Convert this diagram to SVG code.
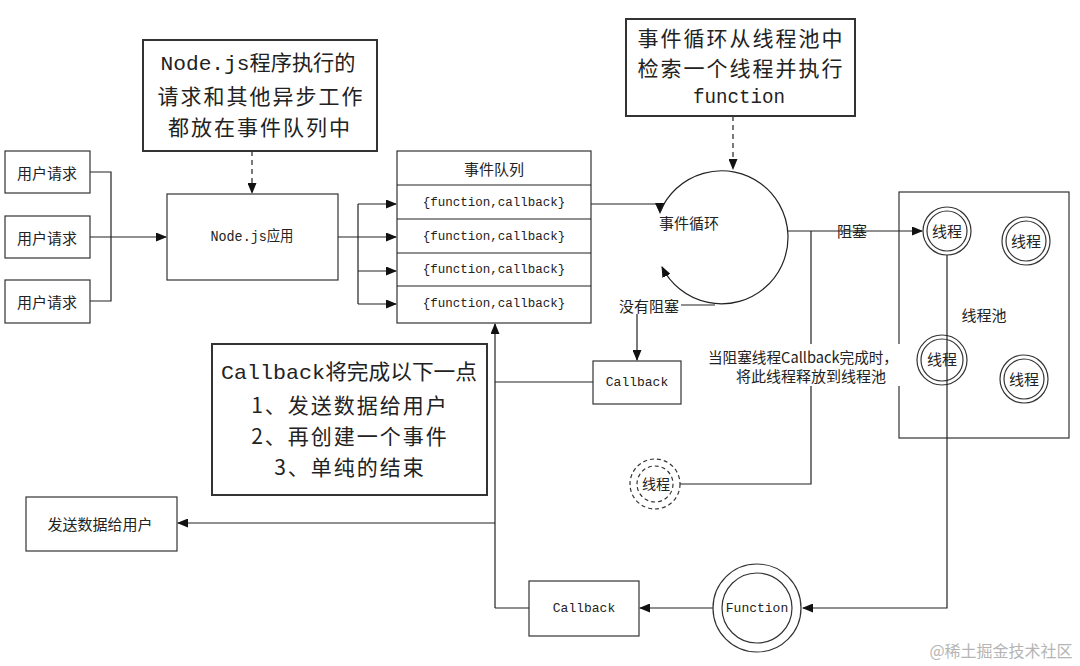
<svg xmlns="http://www.w3.org/2000/svg" width="1080" height="666" viewBox="0 0 1080 666">
<style>
.box{fill:#fff;stroke:#333;stroke-width:1.2}
.pool{fill:none;stroke:#333;stroke-width:1.2}
.call{fill:#fff;stroke:#333;stroke-width:2}
.ln{fill:none;stroke:#222;stroke-width:1.2}
.dash{fill:none;stroke:#222;stroke-width:1.2;stroke-dasharray:5,4}
.cir{fill:#fff;stroke:#333;stroke-width:1.2}
.dcir{fill:#fff;stroke:#333;stroke-width:1.2;stroke-dasharray:4,3}
.t{font-family:"Noto Sans CJK SC","Noto Sans",sans-serif;font-size:15px;fill:#222;text-anchor:middle;dominant-baseline:central}
.m{font-family:"Liberation Mono","Noto Sans CJK SC",monospace}
.big{font-size:21px;letter-spacing:2px}
.fit{letter-spacing:0}
.wm{font-family:"Noto Sans CJK SC",sans-serif;font-size:16px;fill:#b5b5b5;text-anchor:middle;dominant-baseline:central}
</style>
<defs>
<marker id="arr" markerUnits="userSpaceOnUse" markerWidth="11" markerHeight="9" refX="10" refY="4.5" orient="auto">
<path d="M0,0 L11,4.5 L0,9 z" fill="#111"/>
</marker>
</defs>
<rect width="1080" height="666" fill="#fff"/>

<g id="pool">
<rect class="pool" x="899" y="192" width="170" height="246"/>
<text class="t" x="984" y="314">线程池</text>
</g>

<g id="connectors">
<path class="ln" d="M90,172 H111 V301 H90 M90,237 H111"/>
<path class="ln" d="M111,237 H166" marker-end="url(#arr)"/>
<path class="dash" d="M252,151 V193" marker-end="url(#arr)"/>
<path class="ln" d="M338,237 H358 M358,204 V304"/>
<path class="ln" d="M358,204 H396" marker-end="url(#arr)"/>
<path class="ln" d="M358,237 H396" marker-end="url(#arr)"/>
<path class="ln" d="M358,271 H396" marker-end="url(#arr)"/>
<path class="ln" d="M358,304 H396" marker-end="url(#arr)"/>
<path class="ln" d="M591,204 H660"/>
<path d="M655,203 L665,203 L660,214 z" fill="#111"/>
<path class="dash" d="M733,116 V169" marker-end="url(#arr)"/>
<path class="ln" d="M660,212 A66.5,66.5 0 1 1 662,267" marker-end="url(#arr)"/>
<path class="ln" d="M681,305 H715"/>
<path class="ln" d="M637,314 V360" marker-end="url(#arr)"/>
<path class="ln" d="M788,231 H922" marker-end="url(#arr)"/>
<path class="ln" d="M811,231 V484 H680"/>
<path class="ln" d="M593,382 H495"/>
<path class="ln" d="M495,608 V324" marker-end="url(#arr)"/>
<path class="ln" d="M495,523 H178" marker-end="url(#arr)"/>
<path class="ln" d="M495,608 H529"/>
<path class="ln" d="M947,255 V608 H803" marker-end="url(#arr)"/>
<path class="ln" d="M713,608 H640" marker-end="url(#arr)"/>
</g>

<g id="req1"><rect class="box" x="5" y="151" width="85" height="42"/><text class="t" x="47" y="172">用户请求</text></g>
<g id="req2"><rect class="box" x="5" y="216" width="85" height="42"/><text class="t" x="47" y="237">用户请求</text></g>
<g id="req3"><rect class="box" x="5" y="280" width="85" height="43"/><text class="t" x="47" y="301">用户请求</text></g>

<g id="note-queue">
<rect class="call" x="143" y="40" width="234" height="111"/>
<text class="t m big fit" x="258" y="64" textLength="195" lengthAdjust="spacingAndGlyphs">Node.js程序执行的</text>
<text class="t big" x="261" y="95">请求和其他异步工作</text>
<text class="t big" x="260" y="126">都放在事件队列中</text>
</g>

<g id="nodeapp"><rect class="box" x="167" y="194" width="171" height="86"/><text class="t m" x="252" y="237" textLength="83" lengthAdjust="spacingAndGlyphs">Node.js应用</text></g>

<g id="queue">
<rect class="box" x="397" y="151" width="194" height="172"/>
<path class="ln" d="M397,185 H591 M397,219 H591 M397,253 H591 M397,286 H591"/>
<text class="t" x="494" y="168">事件队列</text>
<text class="t m" x="494" y="203" style="font-size:12.5px">{function,callback}</text>
<text class="t m" x="494" y="237" style="font-size:12.5px">{function,callback}</text>
<text class="t m" x="494" y="270" style="font-size:12.5px">{function,callback}</text>
<text class="t m" x="494" y="304" style="font-size:12.5px">{function,callback}</text>
</g>

<g id="note-loop">
<rect class="call" x="626" y="19" width="229" height="97"/>
<text class="t big" x="741" y="37">事件循环从线程池中</text>
<text class="t big" x="741" y="67">检索一个线程并执行</text>
<text class="t m big fit" x="739" y="97" textLength="92" lengthAdjust="spacingAndGlyphs">function</text>
</g>

<g id="eventloop"><text class="t" x="689" y="222">事件循环</text></g>
<g id="noblock"><text class="t" x="649" y="305">没有阻塞</text></g>
<g id="block"><text class="t" x="852" y="230">阻塞</text></g>

<g id="callback1"><rect class="box" x="593" y="361" width="88" height="43"/><text class="t m" x="637" y="382" style="font-size:13px">Callback</text></g>

<g id="thread1"><circle class="cir" cx="947" cy="231" r="24"/><circle class="cir" cx="947" cy="231" r="20"/><text class="t" x="947" y="230">线程</text></g>
<g id="thread2"><circle class="cir" cx="1026" cy="241" r="24"/><circle class="cir" cx="1026" cy="241" r="20"/><text class="t" x="1026" y="240">线程</text></g>
<g id="thread3"><circle class="cir" cx="942" cy="360" r="25"/><circle class="cir" cx="942" cy="360" r="21"/><path class="ln" d="M947,335 V385"/><text class="t" x="942" y="358">线程</text></g>
<g id="thread4"><circle class="cir" cx="1024" cy="379" r="24"/><circle class="cir" cx="1024" cy="379" r="20"/><text class="t" x="1024" y="378">线程</text></g>

<g id="release-label">
<rect x="706" y="344" width="195" height="42" fill="#fff"/>
<text class="t" x="803" y="356" textLength="190" lengthAdjust="spacingAndGlyphs">当阻塞线程Callback完成时，</text>
<text class="t" x="811" y="375">将此线程释放到线程池</text>
</g>

<g id="thread-free"><circle class="dcir" cx="655" cy="484" r="25"/><circle class="dcir" cx="655" cy="484" r="18"/><text class="t" x="656" y="483" style="font-size:14px">线程</text></g>

<g id="note-callback">
<rect class="call" x="212" y="344" width="275" height="151"/>
<text class="t m big fit" x="349" y="373" textLength="256" lengthAdjust="spacingAndGlyphs">Callback将完成以下一点</text>
<text class="t big" x="350" y="404">1、发送数据给用户</text>
<text class="t big" x="350" y="435">2、再创建一个事件</text>
<text class="t big" x="350" y="466">3、单纯的结束</text>
</g>

<g id="senduser"><rect class="box" x="26" y="497" width="151" height="54"/><text class="t" x="100" y="523">发送数据给用户</text></g>

<g id="callback2"><rect class="box" x="529" y="581" width="110" height="55"/><text class="t m" x="584" y="608" style="font-size:13px">Callback</text></g>

<g id="function"><circle class="cir" cx="757" cy="608" r="44"/><circle class="cir" cx="757" cy="608" r="35"/><text class="t m" x="757" y="608" style="font-size:13px">Function</text></g>

<text class="wm" x="1001" y="650">@稀土掘金技术社区</text>
</svg>
